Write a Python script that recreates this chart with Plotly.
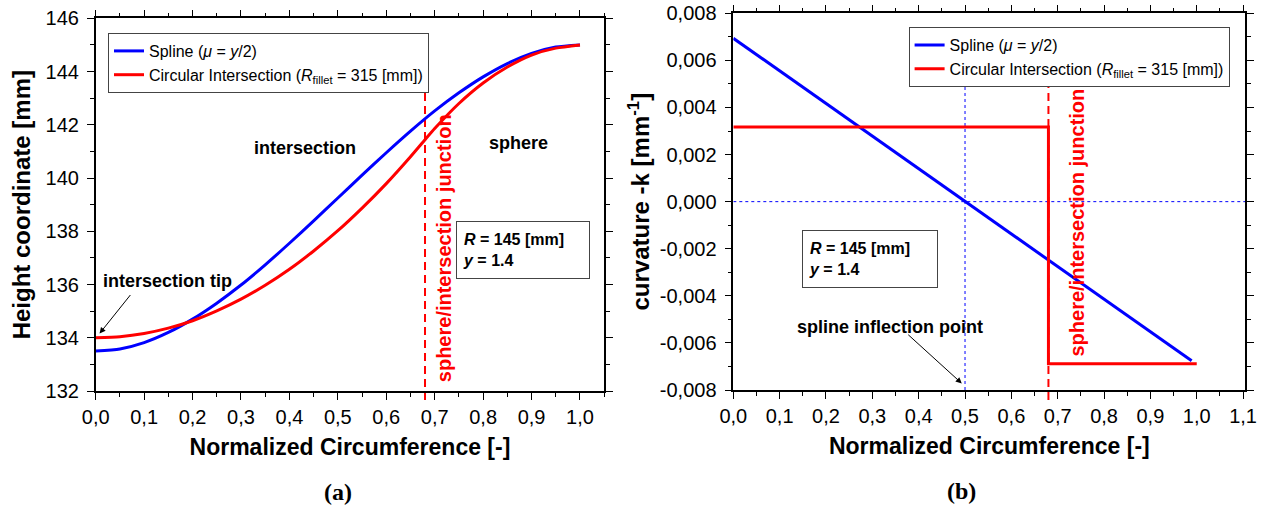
import plotly.graph_objects as go

# ---------------- data ----------------
# (a) height coordinate vs normalized circumference
t_spline = [0.00, 0.05, 0.10, 0.15, 0.20, 0.25, 0.30, 0.35, 0.40, 0.45, 0.50,
            0.55, 0.60, 0.65, 0.70, 0.75, 0.80, 0.85, 0.90, 0.95, 1.00]
h_spline = [133.50, 133.58, 133.82, 134.20, 134.70, 135.30, 135.98, 136.74, 137.55, 138.39, 139.25,
            140.11, 140.95, 141.76, 142.52, 143.20, 143.80, 144.30, 144.68, 144.92, 145.00]

t_circ = [0.00, 0.05, 0.10, 0.15, 0.20, 0.25, 0.30, 0.35, 0.40, 0.45, 0.50,
          0.55, 0.60, 0.65, 0.68, 0.70, 0.75, 0.80, 0.85, 0.90, 0.95, 1.00]
h_circ = [134.00, 134.04, 134.16, 134.36, 134.64, 135.01, 135.45, 135.97, 136.57, 137.26, 138.02,
          138.87, 139.79, 140.80, 141.44, 141.86, 142.80, 143.57, 144.17, 144.62, 144.88, 145.00]

# (b) curvature vs normalized circumference
t_k_spline = [0.00, 0.989]
k_spline = [0.00694, -0.00676]

t_k_circ = [0.00, 0.68, 0.68, 1.00]
k_circ = [0.00317, 0.00317, -0.00688, -0.00688]

junction_t = 0.68
inflection_t = 0.5

x_ticks_a = [0.0, 0.1, 0.2, 0.3, 0.4, 0.5, 0.6, 0.7, 0.8, 0.9, 1.0]
x_ticks_b = [0.0, 0.1, 0.2, 0.3, 0.4, 0.5, 0.6, 0.7, 0.8, 0.9, 1.0, 1.1]
y_ticks_a = [132, 134, 136, 138, 140, 142, 144, 146]
y_ticks_b = [-0.008, -0.006, -0.004, -0.002, 0.0, 0.002, 0.004, 0.006, 0.008]
y_ticktext_b = ["-0,008", "-0,006", "-0,004", "-0,002", "0,000", "0,002", "0,004", "0,006", "0,008"]

BLUE = "#0000FF"
RED = "#FF0000"
FONT = "Liberation Sans, Arial, sans-serif"
SERIF = "Liberation Serif, Times New Roman, serif"

# body margin is removed by the post script, so the figure fills the window
OFF = 0
W, H = 1272 - 2 * OFF, 508 - OFF
ML, MT = 95 - OFF, 13 - OFF
MB = H - (391 - OFF)
MR = W - (1246 - OFF)
PW, PH = W - ML - MR, H - MT - MB

def px(v):
    """window pixel x -> paper x"""
    return (v - OFF - ML) / PW

def py(v):
    """window pixel y (from top) -> paper y"""
    return (H - MB - (v - OFF)) / PH

fig = go.Figure()

fig.add_trace(go.Scatter(x=t_spline, y=h_spline, mode="lines",
                         line=dict(color=BLUE, width=3, shape="spline", smoothing=0.6),
                         name="Spline (<i>μ</i> = <i>y</i>/2)", legend="legend",
                         xaxis="x", yaxis="y"))
fig.add_trace(go.Scatter(x=t_circ, y=h_circ, mode="lines",
                         line=dict(color=RED, width=3, shape="spline", smoothing=0.6),
                         name="Circular Intersection (<i>R</i><sub>fillet</sub> = 315 [mm])",
                         legend="legend", xaxis="x", yaxis="y"))

fig.add_trace(go.Scatter(x=t_k_spline, y=k_spline, mode="lines",
                         line=dict(color=BLUE, width=3),
                         name="Spline (<i>μ</i> = <i>y</i>/2)", legend="legend2",
                         xaxis="x2", yaxis="y2"))
fig.add_trace(go.Scatter(x=t_k_circ, y=k_circ, mode="lines",
                         line=dict(color=RED, width=3),
                         name="Circular Intersection (<i>R</i><sub>fillet</sub> = 315 [mm])",
                         legend="legend2", xaxis="x2", yaxis="y2"))

axis_common = dict(showline=True, linecolor="black", linewidth=1.5, mirror="allticks",
                   ticks="outside", ticklen=7, tickwidth=1.2, tickcolor="black",
                   showgrid=False, zeroline=False, automargin=False,
                   ticklabeloverflow="allow",
                   tickfont=dict(family=FONT, size=20, color="black"))
minor_common = dict(ticks="outside", ticklen=4, tickcolor="black", tickwidth=1.2)
xtitle_font = dict(family=FONT, size=23, color="black")
ytitle_font = dict(family=FONT, size=24, color="black")

fig.update_layout(
    width=W, height=H,
    margin=dict(l=ML, r=MR, t=MT, b=MB, autoexpand=False),
    paper_bgcolor="white", plot_bgcolor="white",
    separators=",.",
    showlegend=True,
    xaxis=dict(domain=[max(0, px(95.7)), px(604.2)], range=[0, 1.05], anchor="y",
               tickvals=x_ticks_a, tickformat=".1f",
               minor=dict(dtick=0.05, **minor_common),
               title=dict(text="<b>Normalized Circumference [-]</b>", standoff=12, font=xtitle_font),
               **axis_common),
    yaxis=dict(domain=[max(0, py(391)), py(18.3)], range=[132, 146], anchor="x",
               tickvals=y_ticks_a, ticklabelstandoff=4,
               minor=dict(dtick=1, **minor_common),
               title=dict(text="<b>Height coordinate [mm]</b>", standoff=8, font=ytitle_font),
               **axis_common),
    xaxis2=dict(domain=[px(733.3), min(1, px(1245.4))], range=[0, 1.105], anchor="y2",
                tickvals=x_ticks_b, tickformat=".1f",
                minor=dict(dtick=0.05, **minor_common),
                title=dict(text="<b>Normalized Circumference [-]</b>", standoff=12, font=xtitle_font),
                **axis_common),
    yaxis2=dict(domain=[py(390), min(1, py(13.3))], range=[-0.008, 0.008], anchor="x2",
                tickvals=y_ticks_b, ticktext=y_ticktext_b, ticklabelstandoff=4,
                minor=dict(dtick=0.001, **minor_common),
                title=dict(text="<b>curvature -k [mm<sup>-1</sup>]</b>", standoff=3, font=ytitle_font),
                **axis_common),
    legend=dict(x=px(108), y=py(33), xanchor="left", yanchor="top", xref="paper", yref="paper",
                bgcolor="white", bordercolor="#444", borderwidth=1,
                font=dict(family=FONT, size=16, color="black"),
                tracegroupgap=0, itemwidth=30),
    legend2=dict(x=px(908.6), y=py(27), xanchor="left", yanchor="top", xref="paper", yref="paper",
                 bgcolor="white", bordercolor="#444", borderwidth=1,
                 font=dict(family=FONT, size=16, color="black"),
                 tracegroupgap=0, itemwidth=30),
)

# dashed reference lines
fig.add_shape(type="line", xref="x", yref="paper", x0=junction_t, x1=junction_t,
              y0=py(400), y1=py(60), line=dict(color=RED, width=2, dash="8px,5px"), layer="below")
fig.add_shape(type="line", xref="x2", yref="paper", x0=junction_t, x1=junction_t,
              y0=py(400), y1=py(60), line=dict(color=RED, width=2, dash="8px,5px"), layer="below")
fig.add_shape(type="line", xref="x2", yref="y2", x0=inflection_t, x1=inflection_t,
              y0=-0.008, y1=0.0049, line=dict(color=BLUE, width=1, dash="3px,3px"), layer="below")
fig.add_shape(type="line", xref="x2", yref="y2", x0=0, x1=1.105,
              y0=0, y1=0, line=dict(color=BLUE, width=1, dash="3px,3px"), layer="below")

bold18 = dict(family=FONT, size=18, color="black")

# text labels (a)
fig.add_annotation(xref="x", yref="y", x=0.432, y=141.13, text="<b>intersection</b>",
                   showarrow=False, font=bold18)
fig.add_annotation(xref="x", yref="y", x=0.872, y=141.32, text="<b>sphere</b>",
                   showarrow=False, font=bold18)
fig.add_annotation(xref="x", yref="y", x=0.149, y=136.14, text="<b>intersection tip</b>",
                   showarrow=False, font=bold18)
fig.add_annotation(xref="x", yref="y", x=0.008, y=134.16, text="", showarrow=True,
                   ax=32, ay=-40, arrowhead=2, arrowsize=1.2, arrowwidth=1, arrowcolor="black")
fig.add_annotation(xref="x", yref="y", x=0.719, y=137.36, text="<b>sphere/intersection junction</b>",
                   textangle=-90, showarrow=False, font=dict(family=FONT, size=20, color=RED))
fig.add_annotation(xref="paper", yref="paper", x=px(455.5), y=py(221), xanchor="left", yanchor="top",
                   text="<b><i>R</i> = 145 [mm]</b><br><b><i>y</i> = 1.4</b>", align="left",
                   width=120, height=44, borderpad=6, bordercolor="#444", borderwidth=1,
                   bgcolor="white", showarrow=False, font=dict(family=FONT, size=16, color="black"))

# text labels (b)
fig.add_annotation(xref="x2", yref="y2", x=0.338, y=-0.00532, text="<b>spline inflection point</b>",
                   showarrow=False, font=bold18)
fig.add_annotation(xref="x2", yref="y2", x=0.493, y=-0.00772, text="", showarrow=True,
                   ax=-55, ay=-50, arrowhead=2, arrowsize=1.2, arrowwidth=1, arrowcolor="black")
fig.add_annotation(xref="x2", yref="y2", x=0.7395, y=-0.000886, text="<b>sphere/intersection junction</b>",
                   textangle=-90, showarrow=False, font=dict(family=FONT, size=20, color=RED))
fig.add_annotation(xref="paper", yref="paper", x=px(802), y=py(230), xanchor="left", yanchor="top",
                   text="<b><i>R</i> = 145 [mm]</b><br><b><i>y</i> = 1.4</b>", align="left",
                   width=122, height=44, borderpad=6, bordercolor="#444", borderwidth=1,
                   bgcolor="white", showarrow=False, font=dict(family=FONT, size=16, color="black"))

# panel captions
fig.add_annotation(xref="paper", yref="paper", x=px(338), y=py(492), xanchor="center", yanchor="middle",
                   text="<b>(a)</b>", showarrow=False, font=dict(family=SERIF, size=24, color="black"))
fig.add_annotation(xref="paper", yref="paper", x=px(961), y=py(491), xanchor="center", yanchor="middle",
                   text="<b>(b)</b>", showarrow=False, font=dict(family=SERIF, size=24, color="black"))

fig.write_html("out.html",
               config={"displayModeBar": False},
               post_script="document.body.style.margin='0';document.body.style.overflow='hidden';")
